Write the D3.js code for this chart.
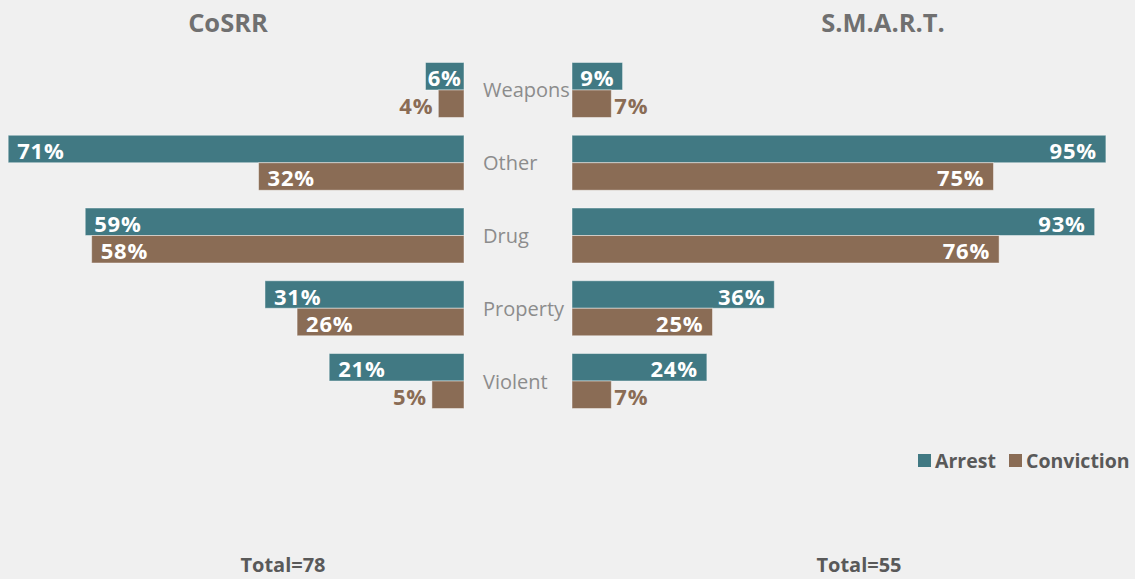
<!DOCTYPE html>
<html>
<head>
<meta charset="utf-8">
<script src="https://cdn.jsdelivr.net/npm/d3@7"></script>
<style>
  html, body { margin: 0; padding: 0; background: #f0f0f0; }
  svg { display: block; }
  text { font-family: "Open Sans", "Noto Sans", sans-serif; }
</style>
</head>
<body>
<svg id="chart" width="1135" height="579"></svg>
<script>
// Offence categories, top to bottom
const categories = ["Weapons", "Other", "Drug", "Property", "Violent"];
const seriesNames = ["Arrest", "Conviction"];

// CoSRR program (percent)
const cosrrArrest = [6, 71, 59, 31, 21];
const cosrrConviction = [4, 32, 58, 26, 5];

// S.M.A.R.T. program (percent)
const smartArrest = [9, 95, 93, 36, 24];
const smartConviction = [7, 75, 76, 25, 7];

const panelTitles = ["CoSRR", "S.M.A.R.T."];
const totals = ["Total=78", "Total=55"];

const colors = { Arrest: "#417983", Conviction: "#8a6c55" };

const svg = d3.select("#chart");
const W = 1135, H = 579;
svg.append("rect").attr("width", W).attr("height", H).attr("fill", "#f0f0f0");

// Vertical layout: one band per category, split into two series rows
const y = d3.scaleBand()
  .domain(categories)
  .range([53.6, 417.4])
  .paddingInner(0.244)
  .paddingOuter(0.122);
const ySub = d3.scaleBand().domain(seriesNames).range([0, y.bandwidth()]);

// Horizontal scales: left panel grows leftward, right panel grows rightward
const xLeft = d3.scaleLinear().domain([0, 100]).range([464, 464 - 642]);
const xRight = d3.scaleLinear().domain([0, 100]).range([572, 572 + 562]);

function rows(arrest, conviction) {
  const out = [];
  categories.forEach((c, i) => {
    out.push({ cat: c, series: "Arrest", value: arrest[i] });
    out.push({ cat: c, series: "Conviction", value: conviction[i] });
  });
  return out;
}

function drawPanel(data, x, side) {
  const g = svg.append("g");
  const x0 = x(0);
  g.selectAll("rect.bar")
    .data(data)
    .join("rect")
    .attr("class", "bar")
    .attr("x", d => Math.min(x0, x(d.value)))
    .attr("width", d => Math.abs(x(d.value) - x0))
    .attr("y", d => y(d.cat) + ySub(d.series))
    .attr("height", ySub.bandwidth())
    .attr("fill", d => colors[d.series])
    .attr("stroke", "rgba(255,255,255,0.45)")
    .attr("stroke-width", 1);

  const pad = 9;
  g.selectAll("text.val")
    .data(data)
    .join("text")
    .attr("class", "val")
    .attr("y", d => y(d.cat) + ySub(d.series) + ySub.bandwidth() / 2 + 1)
    .attr("dominant-baseline", "central")
    .attr("font-size", 22)
    .attr("font-weight", 700)
    .attr("letter-spacing", 0.8)
    .each(function (d) {
      const t = d3.select(this);
      const w = Math.abs(x(d.value) - x0);
      const inside = d.series === "Arrest" || d.value >= 10;
      t.text(d.value + "%");
      if (inside) {
        t.attr("fill", "#ffffff");
        if (w < 60) {
          t.attr("text-anchor", "middle").attr("x", (x(d.value) + x0) / 2);
        } else if (side === "left") {
          t.attr("text-anchor", "start").attr("x", x(d.value) + pad);
        } else {
          t.attr("text-anchor", "end").attr("x", x(d.value) - pad);
        }
      } else {
        t.attr("fill", colors.Conviction);
        if (side === "left") {
          t.attr("text-anchor", "end").attr("x", x(d.value) - 5);
        } else {
          t.attr("text-anchor", "start").attr("x", x(d.value) + 3);
        }
      }
    });
}

drawPanel(rows(cosrrArrest, cosrrConviction), xLeft, "left");
drawPanel(rows(smartArrest, smartConviction), xRight, "right");

// Category labels in the gap between the panels
svg.append("g").selectAll("text")
  .data(categories)
  .join("text")
  .attr("x", 483)
  .attr("y", d => y(d) + y.bandwidth() / 2)
  .attr("dominant-baseline", "central")
  .attr("text-anchor", "start")
  .attr("font-size", 20)
  .attr("fill", "#8c8c8c")
  .text(d => d);

// Panel titles
const titleX = [228, 883];
svg.append("g").selectAll("text")
  .data(panelTitles)
  .join("text")
  .attr("x", (d, i) => titleX[i])
  .attr("y", 32)
  .attr("text-anchor", "middle")
  .attr("font-size", 25.5)
  .attr("font-weight", 700)
  .attr("fill", "#707070")
  .text(d => d);

// Totals
const totalX = [283, 859];
svg.append("g").selectAll("text")
  .data(totals)
  .join("text")
  .attr("x", (d, i) => totalX[i])
  .attr("y", 572)
  .attr("text-anchor", "middle")
  .attr("font-size", 20)
  .attr("font-weight", 700)
  .attr("fill", "#595959")
  .text(d => d);

// Legend
const legendX = [918, 1009];
const lg = svg.append("g").selectAll("g")
  .data(seriesNames)
  .join("g")
  .attr("transform", (d, i) => `translate(${legendX[i]},454)`);
lg.append("rect")
  .attr("width", 13).attr("height", 13)
  .attr("fill", d => colors[d]);
lg.append("text")
  .attr("x", 17).attr("y", 13.5)
  .attr("font-size", 19.5)
  .attr("font-weight", 700)
  .attr("fill", "#595959")
  .text(d => d);
</script>
</body>
</html>
